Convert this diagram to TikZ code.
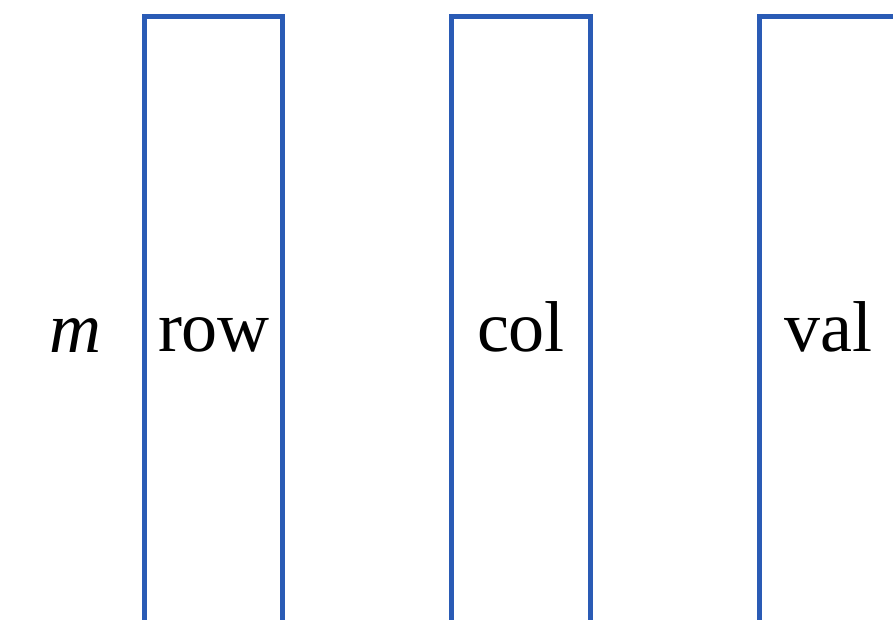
\documentclass[tikz,border=0pt]{standalone}
\usepackage{fontspec}
\setmainfont{Liberation Serif}
\definecolor{boxblue}{HTML}{2A5BB5}
\begin{document}
\begin{tikzpicture}[x=1pt,y=-1pt,
  column/.style={draw=boxblue, line width=5pt},
  lbl/.style={font=\fontsize{72}{80}\selectfont, anchor=base, inner sep=0pt}]
\useasboundingbox (0,0) rectangle (893,620);
\clip (0,0) rectangle (893,620);
\draw[column] (144,16.5) rectangle (282.5,640);
\draw[column] (451.5,16.5) rectangle (590,640);
\draw[column] (759,16.5) rectangle (897.5,640);
\node[lbl] (trow) at (214,351) {row};
\node[lbl] (tcol) at (521,351) {col};
\node[lbl] (tval) at (828,351) {val};
\node[lbl] (tm) at (75,352) {\itshape m};
\end{tikzpicture}
\end{document}
